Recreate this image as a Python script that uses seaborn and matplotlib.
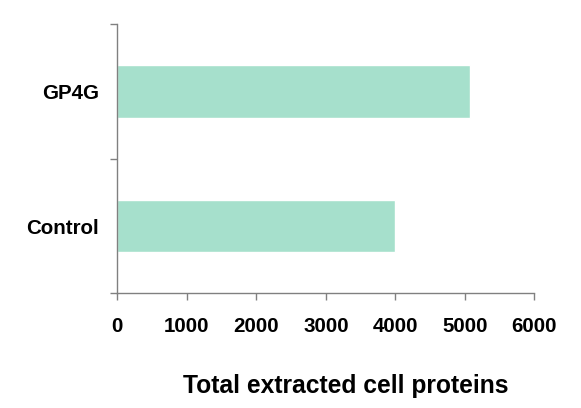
import pandas as pd
import matplotlib
matplotlib.use("Agg")
import matplotlib.pyplot as plt
import seaborn as sns

# Data
groups = ["GP4G", "Control"]
proteins = [5070, 4000]
x_ticks = [0, 1000, 2000, 3000, 4000, 5000, 6000]

df = pd.DataFrame({"group": groups, "proteins": proteins})

sns.set_style("ticks")
plt.rcParams['font.family'] = ['Liberation Sans', 'DejaVu Sans']
plt.rcParams['font.weight'] = 'bold'
plt.rcParams['text.color'] = 'black'
plt.rcParams['xtick.labelcolor'] = 'black'
plt.rcParams['ytick.labelcolor'] = 'black'
plt.rcParams['axes.labelcolor'] = 'black'

fig = plt.figure(figsize=(5.81, 4.08), dpi=100)
ax = fig.add_axes([0.202, 0.2811, 0.7176, 0.6593])

sns.barplot(data=df, x="proteins", y="group", order=groups, orient="h",
            color="#a6e0cc", saturation=1, width=0.39, ax=ax)

ax.set_xlim(0, 6000)
ax.set_ylim(1.5, -0.5)
ax.set_xticks(x_ticks)
ax.set_xticklabels([str(t) for t in x_ticks], fontsize=14.8, fontweight='bold', color='black')

# ticks at category boundaries, labels at category centres
ax.set_yticks([-0.5, 0.5, 1.5])
ax.set_yticklabels([])
ax.set_yticks([0, 1], minor=True)
ax.set_yticklabels(groups, minor=True, fontsize=14.8, fontweight='bold', color='black')
ax.tick_params(axis='y', which='minor', length=0, pad=13)
ax.tick_params(axis='both', which='major', length=5, width=1, color='#808080')
ax.tick_params(axis='x', pad=12)

for side in ["top", "right"]:
    ax.spines[side].set_visible(False)
for side in ["left", "bottom"]:
    ax.spines[side].set_color('#808080')
    ax.spines[side].set_linewidth(1)

ax.set_ylabel("")
ax.set_xlabel("Total extracted cell proteins", fontsize=17.7, fontweight='bold', color='black')
ax.xaxis.set_label_coords(0.548, -0.345)
ax.xaxis.label.set_va('center')

fig.savefig("out.png", dpi=100)
